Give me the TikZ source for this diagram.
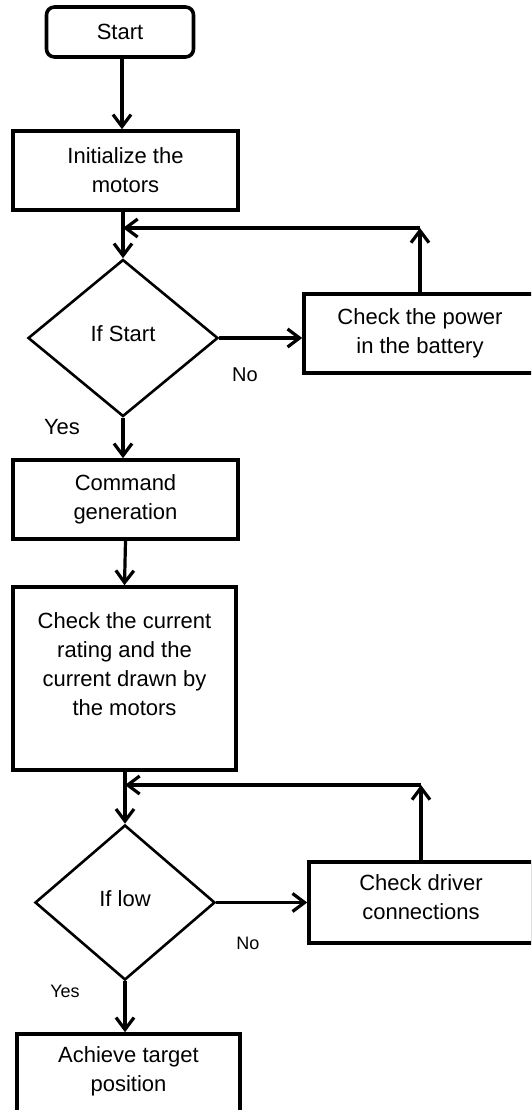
\documentclass[tikz,border=0pt]{standalone}
\usepackage{fontspec}
\setmainfont{Liberation Sans}
\usetikzlibrary{shapes.geometric,arrows.meta}
\begin{document}
\begin{tikzpicture}[x=0.5pt,y=-0.5pt,
  box/.style={draw,line width=1.8pt,rectangle,inner sep=0pt,align=center,font=\fontsize{11pt}{14.5pt}\selectfont},
  dec/.style={draw,line width=1.3pt,diamond,inner sep=0pt,font=\fontsize{11pt}{14.5pt}\selectfont},
  arr/.style={line width=1.6pt,-{Straight Barb[length=6pt,width=9pt,line width=1.6pt]}},
  lbl/.style={inner sep=0pt}]
\useasboundingbox (0,0) rectangle (531,1110);
\clip (0,0) rectangle (531,1110);
\fill[white] (0,0) rectangle (531,1110);
% nodes
\node[box,rounded corners=4pt,minimum width=73.5pt,minimum height=25pt] (start) at (120,32) {Start};
\node[box,minimum width=112.5pt,minimum height=39.5pt] (init) at (125.5,170.5) {Initialize the\\motors};
\node[dec,minimum width=95pt,minimum height=78.5pt] (d1) at (123,338) {\raisebox{4pt}{If Start}};
\node[box,minimum width=116pt,minimum height=39.5pt] (power) at (420,333.5) {Check the power\\in the battery};
\node[box,minimum width=112.5pt,minimum height=39.5pt] (cmd) at (125.5,499.5) {Command\\generation};
\node[box,minimum width=111.5pt,minimum height=91.5pt] (cur) at (124.5,678.5) {Check the current\\rating and the\\current drawn by\\the motors\\\mbox{}};
\node[dec,minimum width=90pt,minimum height=77.5pt] (d2) at (125,902.5) {\raisebox{4pt}{If low}};
\node[box,minimum width=112pt,minimum height=40.5pt] (drv) at (421,902.5) {Check driver\\connections\\[-9.5pt]\mbox{}};
\node[box,minimum width=111.5pt,minimum height=39.5pt] (ach) at (128.5,1073.5) {Achieve target\\position\\[-10pt]\mbox{}};
% labels
\node[lbl,font=\fontsize{10pt}{12pt}\selectfont] (no1) at (245,375) {No};
\node[lbl,font=\fontsize{11pt}{13pt}\selectfont] (yes1) at (62,427) {Yes};
\node[lbl,font=\fontsize{9pt}{11pt}\selectfont] (no2) at (248,943) {No};
\node[lbl,font=\fontsize{9pt}{11pt}\selectfont] (yes2) at (65,991) {Yes};
% junctions
\coordinate (j1) at (power.north |- 0,228);
\coordinate (m1) at (d1.north |- 0,228);
\coordinate (j2) at (drv.north |- 0,785);
\coordinate (m2) at (d2.north |- 0,785);
% connectors
\draw[arr] (start.south -| 122,0) -- (init.north -| 122,0);
\draw[arr] (init.south -| d1.north) -- (d1.north);
\draw[arr] (d1.east) -- (d1.east -| power.west);
\draw[arr] (power.north) -- (j1);
\draw[arr] (j1) -- (m1);
\draw[arr] (d1.south) -- (d1.south |- cmd.north);
\draw[arr] (cmd.south) -- (cur.north);
\draw[arr] (cur.south -| d2.north) -- (d2.north);
\draw[arr] (d2.east) -- (d2.east -| drv.west);
\draw[arr] (drv.north) -- (j2);
\draw[arr] (j2) -- (m2);
\draw[arr] (d2.south) -- (d2.south |- ach.north);
\end{tikzpicture}
\end{document}
